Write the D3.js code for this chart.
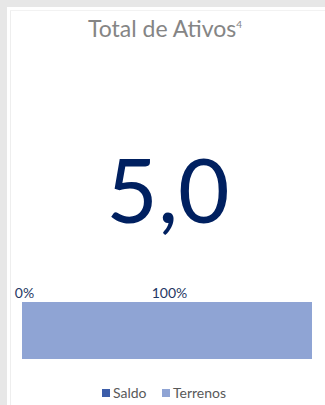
<!DOCTYPE html>
<html>
<head>
<meta charset="utf-8">
<script src="https://cdn.jsdelivr.net/npm/d3@7"></script>
<style>
  html, body { margin: 0; padding: 0; background: #e7e7e7; }
  svg { display: block; font-family: Lato, "Open Sans", sans-serif; }
</style>
</head>
<body>
<svg id="chart" width="325" height="405"></svg>
<script>
// Asset composition (share of total)
const categories = ["Total"];
const seriesNames = ["Saldo", "Terrenos"];
const saldoValues = [0];
const terrenosValues = [2];
const tickValues = [0, 1];
const headlineValue = "5,0";
const titleText = "Total de Ativos";
const titleNote = "4";

const colors = { Saldo: "#3c5da9", Terrenos: "#8fa4d4" };

const W = 325, H = 405;
const svg = d3.select("#chart");

// card
svg.append("rect").attr("x", 0).attr("y", 0).attr("width", W).attr("height", H).attr("fill", "#e7e7e7");
svg.append("rect").attr("x", 7).attr("y", 7).attr("width", W - 7).attr("height", H - 7).attr("fill", "#ffffff");
svg.append("line").attr("x1", 10.5).attr("x2", 10.5).attr("y1", 10).attr("y2", H).attr("stroke", "#eeeeee");
svg.append("line").attr("x1", 10).attr("x2", W).attr("y1", 10.5).attr("y2", 10.5).attr("stroke", "#f2f2f2");

// title
const title = svg.append("text")
  .attr("x", 165).attr("y", 37)
  .attr("text-anchor", "middle")
  .attr("fill", "#858585")
  .style("font-size", "23px");
title.append("tspan").text(titleText);
title.append("tspan").text(titleNote).attr("dy", -9).style("font-size", "10px");

// headline number
svg.append("text")
  .attr("x", 168).attr("y", 223)
  .attr("text-anchor", "middle")
  .attr("fill", "#002060")
  .style("font-size", "89px")
  .text(headlineValue);

// stacked bar
const data = categories.map((c, i) => ({ cat: c, Saldo: saldoValues[i], Terrenos: terrenosValues[i] }));
const stack = d3.stack().keys(seriesNames)(data);

const x = d3.scaleLinear().domain([0, 2]).range([22, 312]);
const y = d3.scaleBand().domain(categories).range([302, 359]).padding(0);

svg.append("g")
  .selectAll("g")
  .data(stack)
  .join("g")
  .attr("fill", d => colors[d.key])
  .selectAll("rect")
  .data(d => d)
  .join("rect")
  .attr("x", d => x(d[0]))
  .attr("y", d => y(d.data.cat))
  .attr("width", d => x(d[1]) - x(d[0]))
  .attr("height", y.bandwidth());

// top axis labels
const axis = d3.axisTop(x)
  .tickValues(tickValues)
  .tickFormat(d3.format(".0%"))
  .tickSize(0)
  .tickPadding(0);
const ag = svg.append("g").attr("transform", "translate(2,297.5)").call(axis);
ag.select(".domain").remove();
ag.selectAll("text")
  .attr("fill", "#1f3864")
  .style("font-size", "14px")
  .style("font-family", "Lato, sans-serif");

// legend
const legendItems = [
  { name: "Saldo", x: 102 },
  { name: "Terrenos", x: 162 }
];
const lg = svg.append("g");
legendItems.forEach(it => {
  lg.append("rect").attr("x", it.x).attr("y", 389).attr("width", 8).attr("height", 8).attr("fill", colors[it.name]);
  lg.append("text").attr("x", it.x + 11).attr("y", 398)
    .attr("fill", "#595959").style("font-size", "14px").text(it.name);
});
</script>
</body>
</html>
